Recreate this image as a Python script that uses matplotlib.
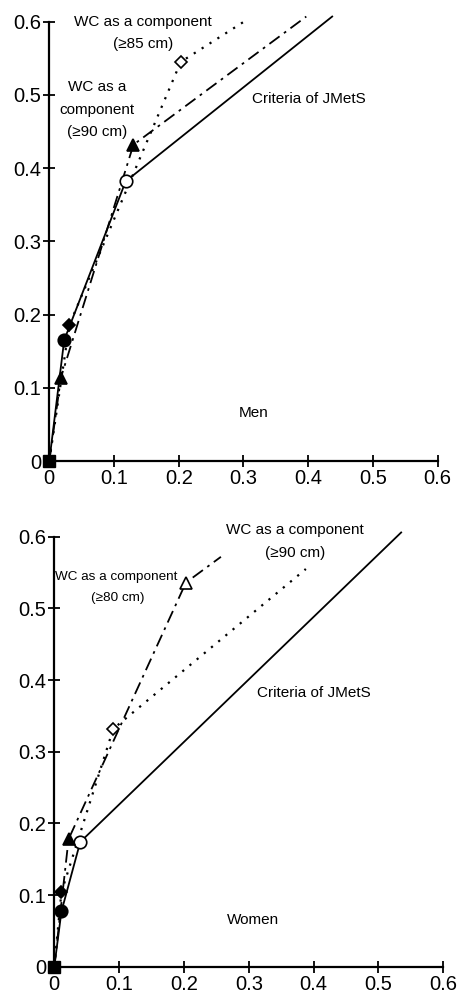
import numpy as np
import matplotlib.pyplot as plt

plt.rcParams['font.family'] = ['Liberation Sans', 'DejaVu Sans']
plt.rcParams['lines.linewidth'] = 1.3

# Men: (1 - specificity, sensitivity)
men_jmets_x = [0, 0.023, 0.118, 0.437]
men_jmets_y = [0, 0.165, 0.382, 0.607]
men_wc85_x = [0, 0.031, 0.203, 0.306]
men_wc85_y = [0, 0.186, 0.545, 0.603]
men_wc90_x = [0, 0.018, 0.130, 0.397]
men_wc90_y = [0, 0.114, 0.432, 0.607]

# Women
wom_jmets_x = [0, 0.011, 0.040, 0.535]
wom_jmets_y = [0, 0.077, 0.174, 0.606]
wom_wc90_x = [0, 0.011, 0.091, 0.388]
wom_wc90_y = [0, 0.104, 0.332, 0.555]
wom_wc80_x = [0, 0.022, 0.203, 0.257]
wom_wc80_y = [0, 0.178, 0.536, 0.572]

ticks = [0, 0.1, 0.2, 0.3, 0.4, 0.5, 0.6]
tick_labels = ['0', '0.1', '0.2', '0.3', '0.4', '0.5', '0.6']

DOT = (0, (1, 3.2))
DASHDOT = (0, (7, 3, 1.5, 3))

fig = plt.figure(figsize=(4.59, 9.94), dpi=100)
ax1 = fig.add_axes([0.1074, 0.5362, 0.8462, 0.442])
ax2 = fig.add_axes([0.1183, 0.0275, 0.8475, 0.4325])


def style_axes(ax):
    ax.set_xlim(0, 0.6)
    ax.set_ylim(0, 0.6)
    for s in ['top', 'right']:
        ax.spines[s].set_visible(False)
    for s in ['left', 'bottom']:
        ax.spines[s].set_linewidth(1.6)
    ax.set_xticks(ticks)
    ax.set_yticks(ticks)
    ax.set_xticklabels(tick_labels, fontsize=14.5)
    ax.set_yticklabels(tick_labels, fontsize=14.5)
    ax.tick_params(direction='inout', length=8, width=1.3, pad=2)


def draw(ax, x, y, ls, mk, fills, ms=9, lw=1.3):
    ax.plot(x, y, color='k', ls=ls, lw=lw, clip_on=False, zorder=2)
    # marker for each inner point: filled or open
    for i in range(1, len(x) - 1):
        fc = 'k' if fills[i - 1] else 'white'
        ax.plot(x[i], y[i], marker=mk, ms=ms, mfc=fc, mec='k', mew=1.2,
                clip_on=False, zorder=3)


# ---- Men
draw(ax1, men_jmets_x, men_jmets_y, '-', 'o', [True, False])
draw(ax1, men_wc85_x, men_wc85_y, DOT, 'D', [True, False], ms=6.5, lw=1.6)
draw(ax1, men_wc90_x, men_wc90_y, DASHDOT, '^', [True, True])
ax1.plot(0, 0, marker='s', ms=9, color='k', clip_on=False, zorder=4)
style_axes(ax1)

ax1.text(0.145, 0.6, 'WC as a component', fontsize=11, ha='center', va='center')
ax1.text(0.145, 0.569, '(\u226585 cm)', fontsize=11, ha='center', va='center')
ax1.text(0.074, 0.511, 'WC as a', fontsize=11, ha='center', va='center')
ax1.text(0.074, 0.480, 'component', fontsize=11, ha='center', va='center')
ax1.text(0.074, 0.450, '(\u226590 cm)', fontsize=11, ha='center', va='center')
ax1.text(0.401, 0.494, 'Criteria of JMetS', fontsize=11, ha='center', va='center')
ax1.text(0.315, 0.066, 'Men', fontsize=11, ha='center', va='center')

# ---- Women
draw(ax2, wom_jmets_x, wom_jmets_y, '-', 'o', [True, False])
draw(ax2, wom_wc90_x, wom_wc90_y, DOT, 'D', [True, False], ms=6.5, lw=1.6)
draw(ax2, wom_wc80_x, wom_wc80_y, DASHDOT, '^', [True, False])
ax2.plot(0, 0, marker='s', ms=9, color='k', clip_on=False, zorder=4)
style_axes(ax2)

ax2.text(0.371, 0.610, 'WC as a component', fontsize=11, ha='center', va='center')
ax2.text(0.371, 0.577, '(\u226590 cm)', fontsize=11, ha='center', va='center')
ax2.text(0.096, 0.544, 'WC as a component', fontsize=9.7, ha='center', va='center')
ax2.text(0.098, 0.514, '(\u226580 cm)', fontsize=9.7, ha='center', va='center')
ax2.text(0.400, 0.382, 'Criteria of JMetS', fontsize=11, ha='center', va='center')
ax2.text(0.307, 0.065, 'Women', fontsize=11, ha='center', va='center')

fig.savefig('out.png', dpi=100)
